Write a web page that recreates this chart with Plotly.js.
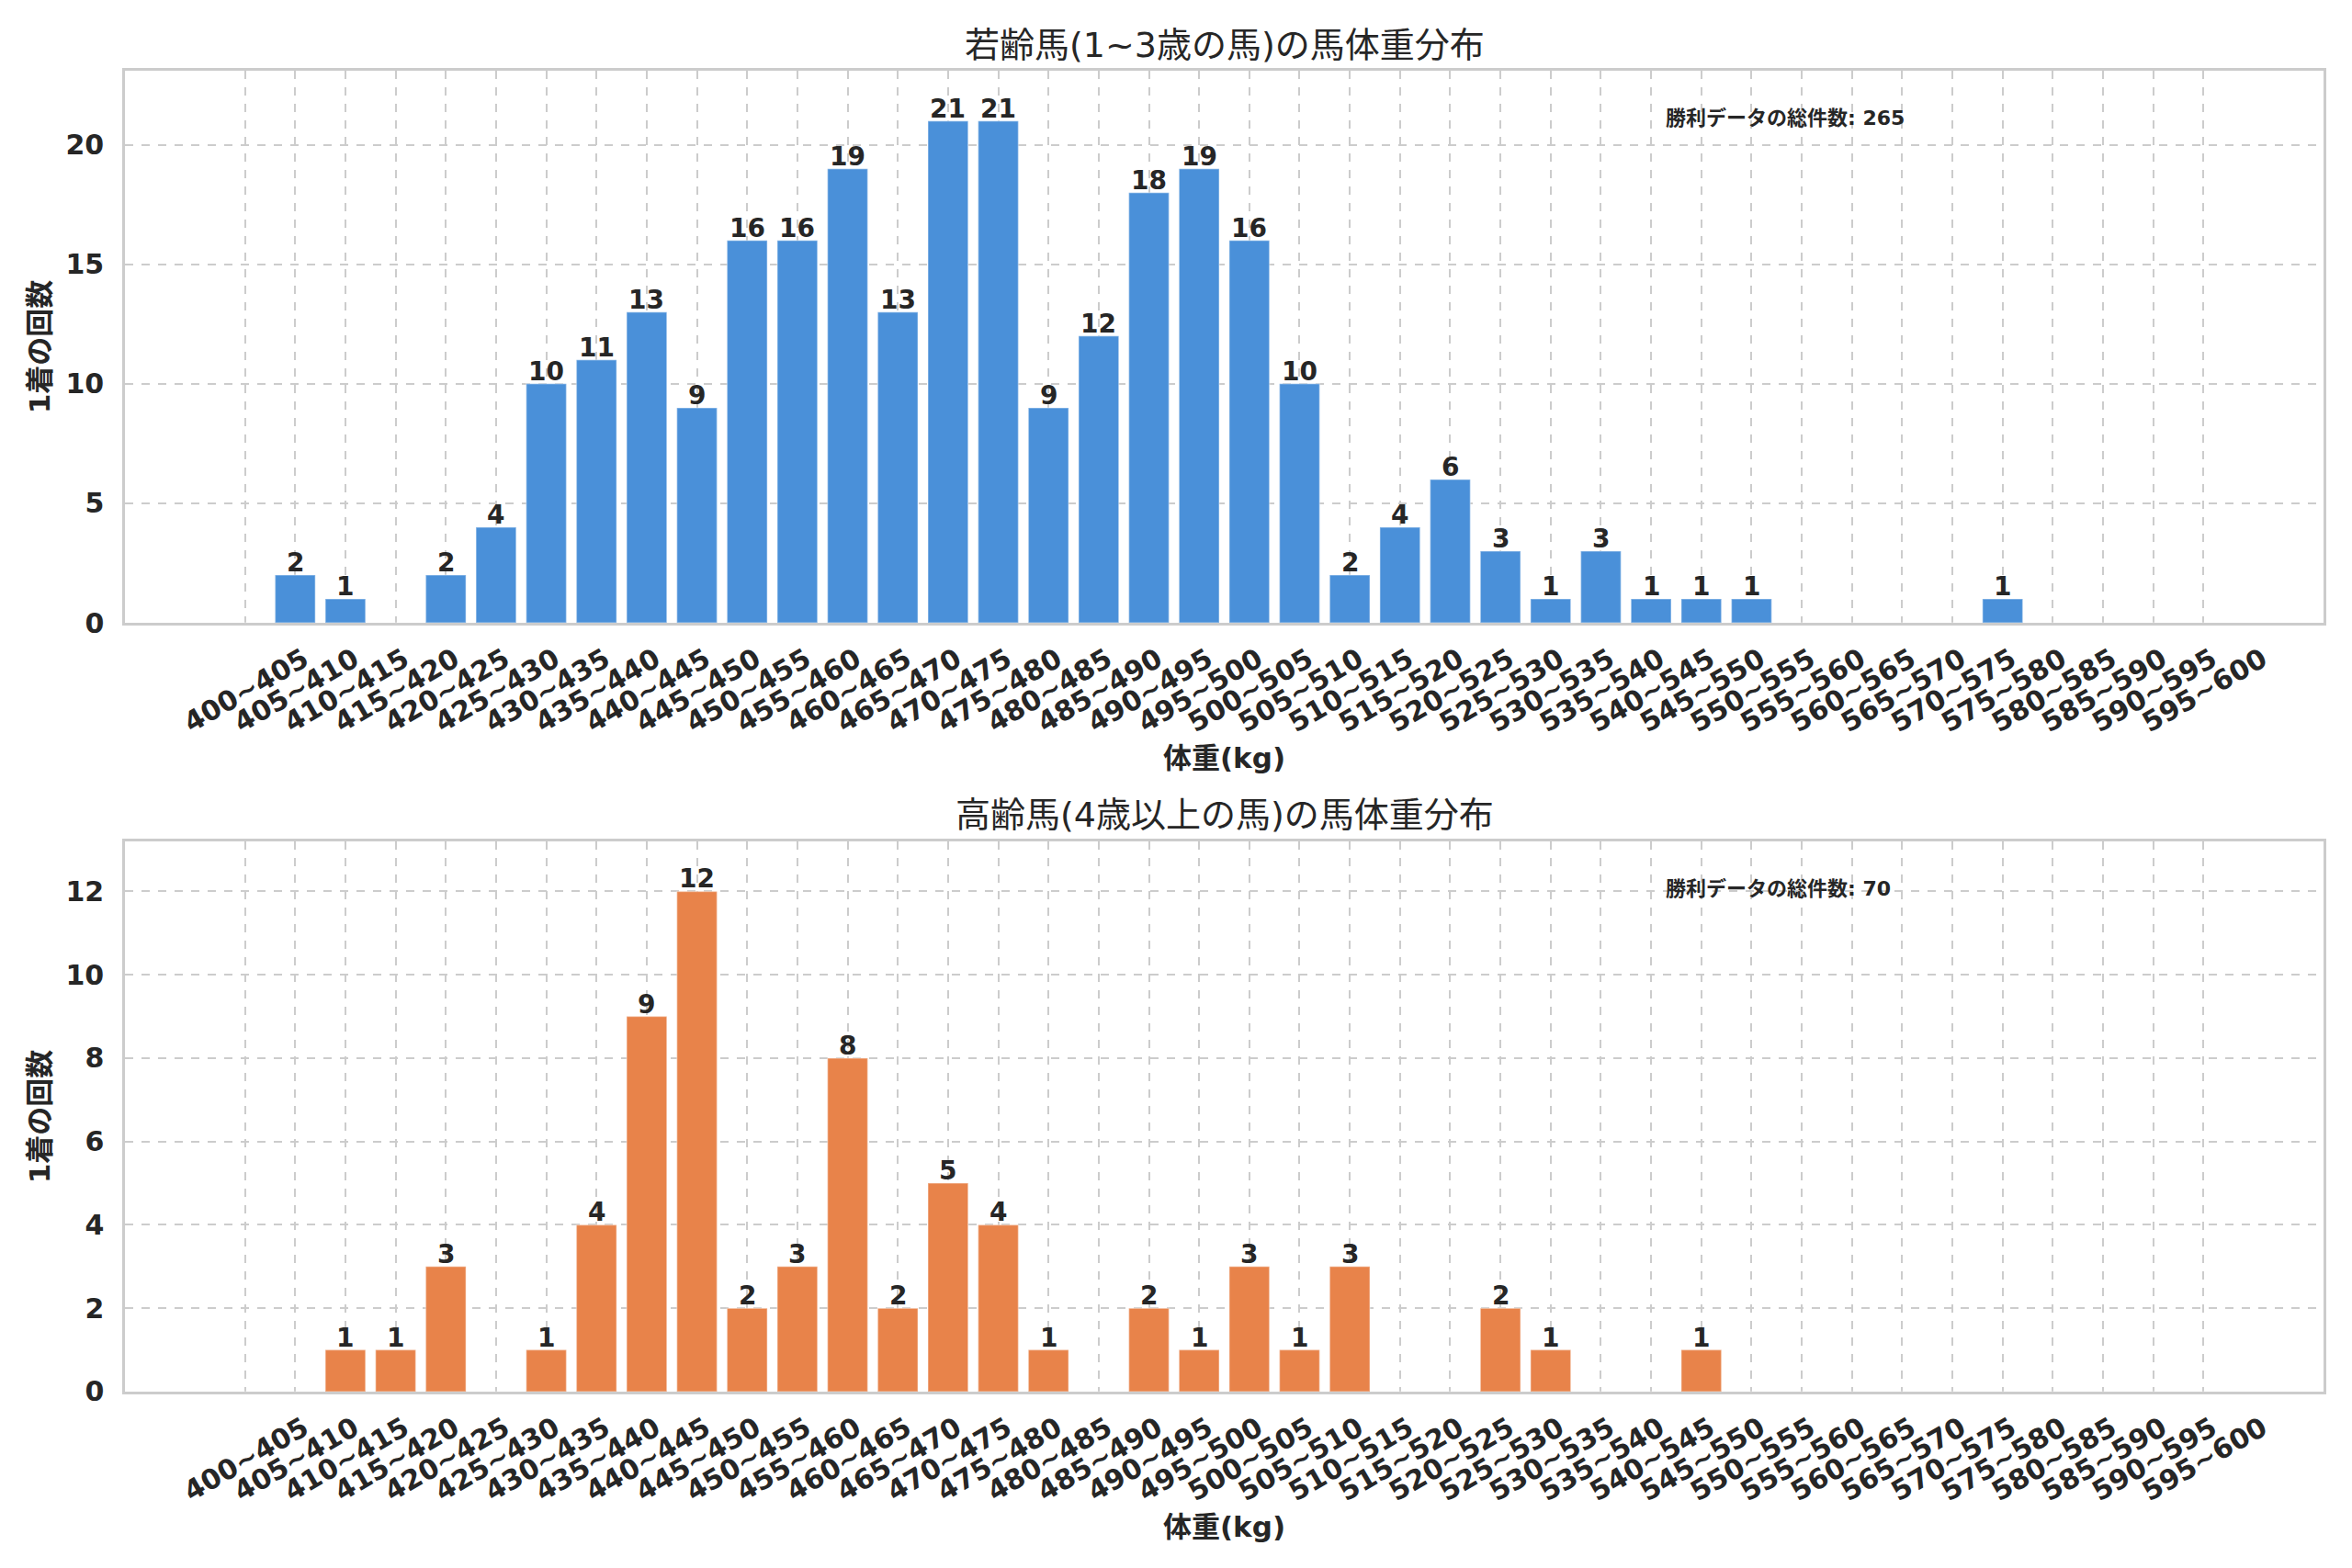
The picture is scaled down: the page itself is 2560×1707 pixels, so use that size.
<!DOCTYPE html>
<html>
<head>
<meta charset="utf-8">
<script src="https://cdn.plot.ly/plotly-3.0.1.min.js"></script>
<style>
  html, body { margin: 0; padding: 0; background: #fff; }
  #chart { width: 2560px; height: 1707px; }
</style>
</head>
<body>
<div id="chart"></div>
<script>
// weight bins, 400~405 ... 595~600
const bins = [];
for (let w = 400; w < 600; w += 5) {
	bins.push(w + "~" + (w + 5));
}

// 1~3 year olds
const youngCounts = [0, 2, 1, 0, 2, 4, 10, 11, 13, 9, 16, 16, 19, 13, 21, 21, 9, 12, 18, 19,
	16, 10, 2, 4, 6, 3, 1, 3, 1, 1, 1, 0, 0, 0, 0, 1, 0, 0, 0, 0];
// 4 and older
const oldCounts = [0, 0, 1, 1, 3, 0, 1, 4, 9, 12, 2, 3, 8, 2, 5, 4, 1, 0, 2, 1,
	3, 1, 3, 0, 0, 2, 1, 0, 0, 1, 0, 0, 0, 0, 0, 0, 0, 0, 0, 0];

const titles = ["若齢馬(1~3歳の馬)の馬体重分布", "高齢馬(4歳以上の馬)の馬体重分布"];
const xLabel = "体重(kg)";
const yLabel = "1着の回数";
const totalLabel = "勝利データの総件数";

const blue = "#4A90D9";
const orange = "#E8834A";
const textColor = "#262626";
const gridColor = "#cccccc";
const fontFamily = "DejaVu Sans, Noto Sans CJK JP, sans-serif";

const sum = arr => arr.reduce((a, b) => a + b, 0);

function barTrace(counts, color, xa, ya) {
	return {
		type: "bar",
		x: bins,
		y: counts,
		xaxis: xa,
		yaxis: ya,
		width: 0.8,
		marker: { color: color, line: { color: "rgba(255,255,255,0.35)", width: 1.5 } },
		hoverinfo: "x+y"
	};
}

// value labels sitting right on top of the bars
function valueLabels(counts, xa, ya) {
	const out = [];
	counts.forEach((v, i) => {
		if (v <= 0) return;
		out.push({
			text: String(v), x: bins[i], y: v, xref: xa, yref: ya,
			xanchor: "center", yanchor: "bottom", yshift: -5, showarrow: false,
			font: { family: fontFamily, size: 28, color: textColor, weight: "bold" }
		});
	});
	return out;
}

function xAxis(anchor) {
	return {
		anchor: anchor,
		type: "category",
		range: [-2.39, 41.39],
		tickangle: -30,
		ticklabelshift: 64,
		ticklabelstandoff: 8,
		tickfont: { family: fontFamily, size: 30, color: textColor, weight: "bold" },
		showgrid: true,
		gridcolor: gridColor,
		gridwidth: 2,
		griddash: "dash",
		showline: true,
		linecolor: gridColor,
		linewidth: 2.5,
		mirror: true,
		ticks: "",
		zeroline: false,
		title: {
			text: xLabel,
			standoff: 12,
			font: { family: fontFamily, size: 31, color: textColor, weight: "bold" }
		}
	};
}

function yAxis(anchor, domain, counts, step) {
	return {
		anchor: anchor,
		domain: domain,
		range: [0, Math.max(...counts) * 1.1],
		dtick: step,
		tickfont: { family: fontFamily, size: 30, color: textColor, weight: "bold" },
		showgrid: true,
		gridcolor: gridColor,
		gridwidth: 2,
		griddash: "dash",
		showline: true,
		linecolor: gridColor,
		linewidth: 2.5,
		mirror: true,
		ticks: "",
		ticklabelstandoff: 14,
		zeroline: false,
		title: {
			text: yLabel,
			standoff: 8,
			font: { family: fontFamily, size: 31, color: textColor, weight: "bold" }
		}
	};
}

const data = [
	barTrace(youngCounts, blue, "x", "y"),
	barTrace(oldCounts, orange, "x2", "y2")
];

const layout = {
	width: 2560,
	height: 1707,
	paper_bgcolor: "#ffffff",
	plot_bgcolor: "#ffffff",
	showlegend: false,
	bargap: 0.2,
	margin: { l: 136, r: 31, t: 77, b: 192 },
	font: { family: fontFamily, color: textColor },
	xaxis: xAxis("y"),
	yaxis: yAxis("x", [0.582, 1], youngCounts, 5),
	xaxis2: xAxis("y2"),
	yaxis2: yAxis("x2", [0, 0.4166], oldCounts, 2),
	annotations: [
		{
			text: titles[0], xref: "paper", yref: "paper", x: 0.5, y: 1.0195,
			xanchor: "center", yanchor: "middle", showarrow: false,
			font: { family: fontFamily, size: 38, color: textColor }
		},
		{
			text: titles[1], xref: "paper", yref: "paper", x: 0.5, y: 0.4367,
			xanchor: "center", yanchor: "middle", showarrow: false,
			font: { family: fontFamily, size: 38, color: textColor }
		},
		{
			text: totalLabel + ": " + sum(youngCounts), xref: "paper", yref: "paper", x: 0.7, y: 0.9645,
			xanchor: "left", yanchor: "middle", showarrow: false,
			font: { family: fontFamily, size: 22, color: textColor, weight: "bold" }
		},
		{
			text: totalLabel + ": " + sum(oldCounts), xref: "paper", yref: "paper", x: 0.7, y: 0.3804,
			xanchor: "left", yanchor: "middle", showarrow: false,
			font: { family: fontFamily, size: 22, color: textColor, weight: "bold" }
		}
	].concat(valueLabels(youngCounts, "x", "y"), valueLabels(oldCounts, "x2", "y2"))
};

Plotly.newPlot("chart", data, layout, { displayModeBar: false, responsive: false });
</script>
</body>
</html>
